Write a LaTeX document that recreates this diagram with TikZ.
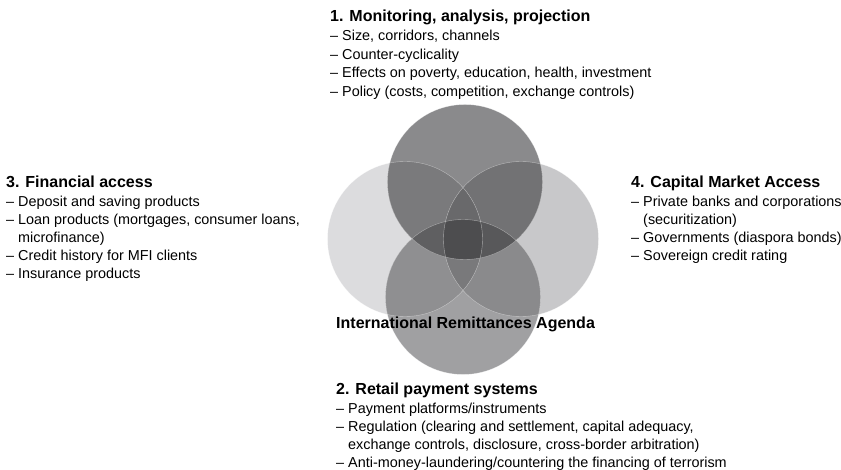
\documentclass[tikz,border=0pt]{standalone}
\usepackage{fontspec}
\setmainfont{Liberation Sans}
\definecolor{gT}{RGB}{138,138,140}
\definecolor{gL}{RGB}{220,220,222}
\definecolor{gR}{RGB}{200,200,202}
\definecolor{gB}{RGB}{160,160,162}
\definecolor{gTL}{RGB}{122,122,124}
\definecolor{gTR}{RGB}{114,114,116}
\definecolor{gBL}{RGB}{143,143,145}
\definecolor{gBR}{RGB}{138,138,140}
\definecolor{gLR}{RGB}{170,170,172}
\definecolor{gTB}{RGB}{100,100,102}
\definecolor{gTLR}{RGB}{105,105,107}
\definecolor{gTLB}{RGB}{95,95,97}
\definecolor{gTRB}{RGB}{88,88,90}
\definecolor{gBLR}{RGB}{121,121,123}
\definecolor{gAll}{RGB}{77,77,79}
\begin{document}
\begin{tikzpicture}[x=1pt,y=-1pt,
  txt/.style={anchor=base west, inner sep=0pt, font=\fontsize{14.4}{18}\selectfont},
  hd/.style={anchor=base west, inner sep=0pt, font=\fontsize{16}{19}\bfseries\selectfont},
  rim/.style={draw=white, draw opacity=0.45, line width=0.4pt}]
\useasboundingbox (0,0) rectangle (841,470);
\def\rad{77.5pt}
\coordinate (cT) at (465,182);
\coordinate (cL) at (405,239);
\coordinate (cR) at (521,239);
\coordinate (cB) at (463,297);
% singles
\fill[gL] (cL) circle[radius=\rad];
\fill[gR] (cR) circle[radius=\rad];
\fill[gT] (cT) circle[radius=\rad];
\fill[gB] (cB) circle[radius=\rad];
% pairs
\begin{scope}\clip (cT) circle[radius=\rad]; \fill[gTL] (cL) circle[radius=\rad]; \end{scope}
\begin{scope}\clip (cT) circle[radius=\rad]; \fill[gTR] (cR) circle[radius=\rad]; \end{scope}
\begin{scope}\clip (cB) circle[radius=\rad]; \fill[gBL] (cL) circle[radius=\rad]; \end{scope}
\begin{scope}\clip (cB) circle[radius=\rad]; \fill[gBR] (cR) circle[radius=\rad]; \end{scope}
\begin{scope}\clip (cL) circle[radius=\rad]; \fill[gLR] (cR) circle[radius=\rad]; \end{scope}
\begin{scope}\clip (cT) circle[radius=\rad]; \fill[gTB] (cB) circle[radius=\rad]; \end{scope}
% triples
\begin{scope}\clip (cT) circle[radius=\rad]; \clip (cL) circle[radius=\rad]; \fill[gTLR] (cR) circle[radius=\rad]; \end{scope}
\begin{scope}\clip (cT) circle[radius=\rad]; \clip (cL) circle[radius=\rad]; \fill[gTLB] (cB) circle[radius=\rad]; \end{scope}
\begin{scope}\clip (cT) circle[radius=\rad]; \clip (cR) circle[radius=\rad]; \fill[gTRB] (cB) circle[radius=\rad]; \end{scope}
\begin{scope}\clip (cB) circle[radius=\rad]; \clip (cL) circle[radius=\rad]; \fill[gBLR] (cR) circle[radius=\rad]; \end{scope}
% all four
\begin{scope}\clip (cT) circle[radius=\rad]; \clip (cL) circle[radius=\rad]; \clip (cR) circle[radius=\rad]; \fill[gAll] (cB) circle[radius=\rad]; \end{scope}
% rims
\draw[rim] (cL) circle[radius=\rad];
\draw[rim] (cR) circle[radius=\rad];
\draw[rim] (cT) circle[radius=\rad];
\draw[rim] (cB) circle[radius=\rad];

% block 1
\node[hd]  (h1)  at (330,22)   {1. Monitoring, analysis, projection};
\node[txt] (t11) at (330,41)   {-- Size, corridors, channels};
\node[txt] (t12) at (330,59.5) {-- Counter-cyclicality};
\node[txt] (t13) at (330,78)   {-- Effects on poverty, education, health, investment};
\node[txt] (t14) at (330,96.5) {-- Policy (costs, competition, exchange controls)};

% block 3
\node[hd]  (h3)  at (6,188) {3. Financial access};
\node[txt] (t31) at (6,207) {-- Deposit and saving products};
\node[txt] (t32) at (6,225) {-- Loan products (mortgages, consumer loans,};
\node[txt] (t33) at (6,243) {\phantom{-- }microfinance)};
\node[txt] (t34) at (6,261) {-- Credit history for MFI clients};
\node[txt] (t35) at (6,279) {-- Insurance products};

% block 4
\node[hd]  (h4)  at (631,188) {4. Capital Market Access};
\node[txt] (t41) at (631,207) {-- Private banks and corporations};
\node[txt] (t42) at (631,225) {\phantom{-- }(securitization)};
\node[txt] (t43) at (631,243) {-- Governments (diaspora bonds)};
\node[txt] (t44) at (631,261) {-- Sovereign credit rating};

% centre label
\node[hd] (ag) at (336,329) {International Remittances Agenda};

% block 2
\node[hd]  (h2)  at (336,395) {2. Retail payment systems};
\node[txt] (t21) at (336,413.5) {-- Payment platforms/instruments};
\node[txt] (t22) at (336,431.5) {-- Regulation (clearing and settlement, capital adequacy,};
\node[txt] (t23) at (336,449.5) {\phantom{-- }exchange controls, disclosure, cross-border arbitration)};
\node[txt] (t24) at (336,467.5) {-- Anti-money-laundering/countering the financing of terrorism};
\end{tikzpicture}
\end{document}
